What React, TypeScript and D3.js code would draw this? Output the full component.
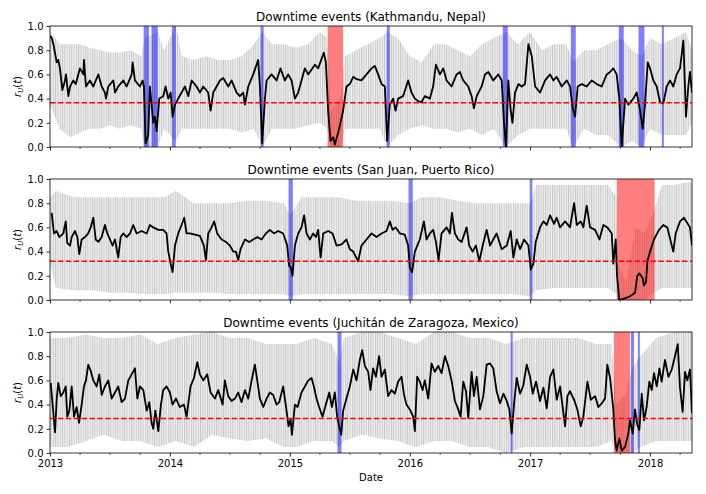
import React, { useEffect, useRef } from 'react';
import * as d3 from 'd3';

// smoothed r_U(t) traces, [decimal year, value]
const KTM_SMOOTH: [number, number][] = [
  [2013.0, 0.92], [2013.014, 0.9], [2013.028, 0.85], [2013.056, 0.7], [2013.069, 0.72], [2013.083, 0.65], [2013.103, 0.47],
  [2013.125, 0.55], [2013.133, 0.6], [2013.153, 0.42], [2013.167, 0.5], [2013.194, 0.55], [2013.215, 0.52], [2013.236, 0.6],
  [2013.25, 0.65], [2013.278, 0.6], [2013.283, 0.72], [2013.3, 0.5], [2013.333, 0.55], [2013.361, 0.5], [2013.403, 0.6],
  [2013.431, 0.5], [2013.458, 0.45], [2013.467, 0.4], [2013.486, 0.5], [2013.528, 0.55], [2013.542, 0.45], [2013.569, 0.5],
  [2013.611, 0.55], [2013.639, 0.5], [2013.681, 0.6], [2013.689, 0.7], [2013.708, 0.55], [2013.75, 0.5], [2013.772, 0.55],
  [2013.783, 0.5], [2013.797, 0.03], [2013.819, 0.1], [2013.833, 0.5], [2013.847, 0.35], [2013.861, 0.2], [2013.875, 0.25],
  [2013.889, 0.13], [2013.911, 0.4], [2013.944, 0.42], [2013.964, 0.5], [2013.986, 0.4], [2014.006, 0.45], [2014.022, 0.25],
  [2014.042, 0.35], [2014.069, 0.4], [2014.097, 0.45], [2014.125, 0.5], [2014.153, 0.42], [2014.181, 0.55], [2014.222, 0.5],
  [2014.25, 0.45], [2014.278, 0.5], [2014.319, 0.45], [2014.339, 0.3], [2014.361, 0.45], [2014.417, 0.55], [2014.444, 0.57],
  [2014.486, 0.5], [2014.514, 0.55], [2014.556, 0.45], [2014.583, 0.42], [2014.611, 0.45], [2014.625, 0.35], [2014.653, 0.5],
  [2014.694, 0.6], [2014.736, 0.72], [2014.75, 0.5], [2014.769, 0.03], [2014.792, 0.4], [2014.806, 0.55], [2014.847, 0.6],
  [2014.889, 0.55], [2014.922, 0.65], [2014.958, 0.55], [2014.986, 0.6], [2015.014, 0.55], [2015.042, 0.4], [2015.069, 0.45],
  [2015.097, 0.55], [2015.125, 0.65], [2015.153, 0.6], [2015.208, 0.68], [2015.236, 0.65], [2015.283, 0.78], [2015.3, 0.7],
  [2015.319, 0.3], [2015.339, 0.05], [2015.361, 0.08], [2015.375, 0.02], [2015.403, 0.12], [2015.422, 0.2], [2015.444, 0.3],
  [2015.472, 0.5], [2015.5, 0.52], [2015.528, 0.58], [2015.556, 0.56], [2015.597, 0.55], [2015.639, 0.6], [2015.681, 0.65],
  [2015.708, 0.67], [2015.736, 0.6], [2015.764, 0.52], [2015.792, 0.5], [2015.811, 0.05], [2015.833, 0.35], [2015.861, 0.4],
  [2015.881, 0.3], [2015.903, 0.4], [2015.944, 0.42], [2015.986, 0.55], [2016.014, 0.45], [2016.042, 0.4], [2016.069, 0.38],
  [2016.097, 0.37], [2016.125, 0.42], [2016.167, 0.4], [2016.194, 0.5], [2016.217, 0.68], [2016.25, 0.6], [2016.278, 0.65],
  [2016.306, 0.55], [2016.347, 0.5], [2016.389, 0.6], [2016.417, 0.62], [2016.444, 0.55], [2016.486, 0.5], [2016.514, 0.42],
  [2016.533, 0.32], [2016.556, 0.42], [2016.597, 0.5], [2016.625, 0.6], [2016.653, 0.62], [2016.694, 0.55], [2016.736, 0.6],
  [2016.764, 0.55], [2016.783, 0.2], [2016.8, 0.0], [2016.819, 0.55], [2016.839, 0.3], [2016.853, 0.2], [2016.875, 0.45],
  [2016.903, 0.52], [2016.931, 0.5], [2016.958, 0.52], [2016.986, 0.85], [2017.014, 0.75], [2017.042, 0.5], [2017.083, 0.45],
  [2017.125, 0.55], [2017.167, 0.6], [2017.194, 0.55], [2017.222, 0.58], [2017.264, 0.5], [2017.306, 0.55], [2017.333, 0.5],
  [2017.356, 0.32], [2017.375, 0.25], [2017.397, 0.5], [2017.431, 0.52], [2017.472, 0.5], [2017.514, 0.55], [2017.556, 0.52],
  [2017.597, 0.5], [2017.639, 0.6], [2017.667, 0.62], [2017.694, 0.65], [2017.722, 0.6], [2017.744, 0.4], [2017.764, 0.0],
  [2017.792, 0.4], [2017.819, 0.35], [2017.861, 0.4], [2017.889, 0.45], [2017.917, 0.3], [2017.939, 0.15], [2017.958, 0.35],
  [2017.981, 0.7], [2018.0, 0.65], [2018.028, 0.55], [2018.056, 0.5], [2018.083, 0.37], [2018.111, 0.36], [2018.139, 0.5],
  [2018.167, 0.55], [2018.194, 0.5], [2018.222, 0.6], [2018.25, 0.65], [2018.278, 0.88], [2018.3, 0.25], [2018.319, 0.5],
  [2018.333, 0.62], [2018.35, 0.45],
];

const SJU_SMOOTH: [number, number][] = [
  [2013.014, 0.72], [2013.033, 0.55], [2013.056, 0.57], [2013.078, 0.52], [2013.111, 0.55], [2013.131, 0.65], [2013.144, 0.47],
  [2013.167, 0.45], [2013.181, 0.52], [2013.208, 0.57], [2013.228, 0.52], [2013.244, 0.38], [2013.264, 0.5], [2013.292, 0.52],
  [2013.319, 0.55], [2013.339, 0.6], [2013.361, 0.68], [2013.381, 0.5], [2013.403, 0.48], [2013.431, 0.52], [2013.458, 0.62],
  [2013.478, 0.55], [2013.5, 0.5], [2013.522, 0.45], [2013.542, 0.5], [2013.569, 0.35], [2013.589, 0.52], [2013.611, 0.55],
  [2013.639, 0.52], [2013.667, 0.55], [2013.694, 0.62], [2013.722, 0.55], [2013.764, 0.57], [2013.806, 0.55], [2013.833, 0.62],
  [2013.861, 0.6], [2013.903, 0.58], [2013.944, 0.58], [2013.972, 0.55], [2013.986, 0.4], [2014.006, 0.3], [2014.022, 0.23],
  [2014.042, 0.45], [2014.069, 0.55], [2014.097, 0.62], [2014.119, 0.68], [2014.139, 0.55], [2014.167, 0.55], [2014.208, 0.54],
  [2014.25, 0.53], [2014.283, 0.45], [2014.3, 0.33], [2014.319, 0.55], [2014.347, 0.6], [2014.369, 0.65], [2014.394, 0.55],
  [2014.431, 0.5], [2014.467, 0.48], [2014.5, 0.45], [2014.528, 0.4], [2014.55, 0.4], [2014.569, 0.33], [2014.589, 0.42],
  [2014.625, 0.5], [2014.661, 0.48], [2014.694, 0.5], [2014.728, 0.52], [2014.764, 0.5], [2014.8, 0.55], [2014.833, 0.58],
  [2014.867, 0.55], [2014.903, 0.57], [2014.944, 0.55], [2014.978, 0.45], [2014.994, 0.28], [2015.008, 0.27], [2015.022, 0.2],
  [2015.042, 0.45], [2015.069, 0.55], [2015.097, 0.6], [2015.119, 0.7], [2015.139, 0.55], [2015.167, 0.5], [2015.194, 0.55],
  [2015.217, 0.52], [2015.236, 0.58], [2015.256, 0.35], [2015.278, 0.55], [2015.319, 0.57], [2015.356, 0.55], [2015.389, 0.45],
  [2015.431, 0.46], [2015.472, 0.5], [2015.5, 0.42], [2015.528, 0.4], [2015.569, 0.32], [2015.597, 0.45], [2015.639, 0.5],
  [2015.681, 0.55], [2015.722, 0.52], [2015.764, 0.55], [2015.806, 0.57], [2015.833, 0.65], [2015.856, 0.58], [2015.883, 0.6],
  [2015.917, 0.55], [2015.958, 0.54], [2015.986, 0.45], [2016.0, 0.27], [2016.019, 0.23], [2016.042, 0.4], [2016.083, 0.5],
  [2016.117, 0.65], [2016.139, 0.5], [2016.167, 0.55], [2016.194, 0.58], [2016.217, 0.48], [2016.239, 0.33], [2016.264, 0.55],
  [2016.306, 0.6], [2016.333, 0.55], [2016.35, 0.72], [2016.375, 0.55], [2016.403, 0.5], [2016.431, 0.48], [2016.472, 0.6],
  [2016.494, 0.45], [2016.522, 0.4], [2016.55, 0.45], [2016.578, 0.32], [2016.606, 0.45], [2016.639, 0.58], [2016.667, 0.45],
  [2016.694, 0.5], [2016.722, 0.55], [2016.764, 0.42], [2016.806, 0.45], [2016.839, 0.57], [2016.861, 0.35], [2016.889, 0.5],
  [2016.917, 0.42], [2016.95, 0.5], [2016.986, 0.45], [2017.006, 0.25], [2017.028, 0.3], [2017.047, 0.48], [2017.083, 0.6],
  [2017.111, 0.65], [2017.139, 0.62], [2017.167, 0.7], [2017.2, 0.63], [2017.222, 0.68], [2017.25, 0.6], [2017.292, 0.65],
  [2017.333, 0.6], [2017.367, 0.8], [2017.389, 0.62], [2017.422, 0.65], [2017.444, 0.6], [2017.472, 0.78], [2017.5, 0.6],
  [2017.542, 0.58], [2017.578, 0.5], [2017.611, 0.62], [2017.644, 0.6], [2017.681, 0.55], [2017.694, 0.3], [2017.714, 0.5],
  [2017.725, 0.2], [2017.744, 0.0], [2017.778, 0.01], [2017.833, 0.03], [2017.875, 0.06], [2017.894, 0.2], [2017.911, 0.22],
  [2017.939, 0.18], [2017.95, 0.12], [2017.967, 0.15], [2017.978, 0.32], [2018.0, 0.4], [2018.033, 0.5], [2018.075, 0.58],
  [2018.111, 0.62], [2018.144, 0.6], [2018.194, 0.4], [2018.214, 0.55], [2018.25, 0.65], [2018.283, 0.68], [2018.333, 0.6],
  [2018.35, 0.45],
];

const JUC_SMOOTH: [number, number][] = [
  [2013.006, 0.58], [2013.022, 0.4], [2013.042, 0.17], [2013.056, 0.45], [2013.069, 0.58], [2013.089, 0.47], [2013.111, 0.5],
  [2013.131, 0.55], [2013.144, 0.3], [2013.161, 0.35], [2013.181, 0.55], [2013.2, 0.3], [2013.222, 0.38], [2013.242, 0.25],
  [2013.264, 0.4], [2013.283, 0.55], [2013.3, 0.6], [2013.319, 0.73], [2013.339, 0.68], [2013.361, 0.6], [2013.389, 0.55],
  [2013.411, 0.65], [2013.431, 0.48], [2013.458, 0.55], [2013.486, 0.6], [2013.514, 0.45], [2013.542, 0.5], [2013.569, 0.55],
  [2013.597, 0.42], [2013.625, 0.45], [2013.653, 0.6], [2013.681, 0.65], [2013.708, 0.7], [2013.728, 0.45], [2013.75, 0.55],
  [2013.778, 0.52], [2013.806, 0.35], [2013.828, 0.42], [2013.847, 0.25], [2013.861, 0.2], [2013.878, 0.35], [2013.903, 0.18],
  [2013.925, 0.4], [2013.944, 0.52], [2013.972, 0.55], [2014.0, 0.5], [2014.022, 0.4], [2014.05, 0.45], [2014.083, 0.38],
  [2014.117, 0.4], [2014.139, 0.3], [2014.172, 0.55], [2014.2, 0.62], [2014.228, 0.75], [2014.25, 0.65], [2014.278, 0.6],
  [2014.311, 0.65], [2014.339, 0.5], [2014.375, 0.45], [2014.403, 0.52], [2014.439, 0.4], [2014.458, 0.6], [2014.486, 0.47],
  [2014.514, 0.43], [2014.542, 0.45], [2014.569, 0.5], [2014.597, 0.42], [2014.625, 0.52], [2014.653, 0.45], [2014.681, 0.6],
  [2014.708, 0.73], [2014.728, 0.6], [2014.75, 0.45], [2014.778, 0.38], [2014.806, 0.45], [2014.833, 0.5], [2014.861, 0.48],
  [2014.889, 0.4], [2014.911, 0.42], [2014.944, 0.55], [2014.972, 0.35], [2014.989, 0.22], [2015.006, 0.28], [2015.017, 0.15],
  [2015.042, 0.4], [2015.064, 0.38], [2015.097, 0.5], [2015.125, 0.55], [2015.153, 0.6], [2015.181, 0.62], [2015.2, 0.55],
  [2015.222, 0.45], [2015.244, 0.38], [2015.272, 0.3], [2015.3, 0.4], [2015.328, 0.5], [2015.35, 0.38], [2015.375, 0.5],
  [2015.394, 0.3], [2015.411, 0.22], [2015.428, 0.15], [2015.444, 0.35], [2015.472, 0.45], [2015.5, 0.55], [2015.528, 0.69],
  [2015.556, 0.6], [2015.583, 0.77], [2015.603, 0.85], [2015.625, 0.72], [2015.653, 0.67], [2015.672, 0.52], [2015.694, 0.7],
  [2015.717, 0.63], [2015.744, 0.8], [2015.764, 0.63], [2015.792, 0.69], [2015.819, 0.47], [2015.847, 0.52], [2015.875, 0.49],
  [2015.903, 0.59], [2015.931, 0.63], [2015.95, 0.49], [2015.972, 0.4], [2016.0, 0.36], [2016.028, 0.3], [2016.042, 0.18],
  [2016.061, 0.63], [2016.083, 0.59], [2016.106, 0.52], [2016.125, 0.6], [2016.153, 0.45], [2016.181, 0.74], [2016.208, 0.67],
  [2016.236, 0.72], [2016.264, 0.66], [2016.292, 0.8], [2016.319, 0.72], [2016.347, 0.6], [2016.375, 0.43], [2016.403, 0.36],
  [2016.422, 0.3], [2016.444, 0.59], [2016.467, 0.51], [2016.486, 0.29], [2016.514, 0.67], [2016.533, 0.47], [2016.556, 0.63],
  [2016.583, 0.36], [2016.611, 0.47], [2016.639, 0.73], [2016.667, 0.74], [2016.694, 0.7], [2016.722, 0.51], [2016.75, 0.41],
  [2016.778, 0.49], [2016.806, 0.43], [2016.828, 0.36], [2016.847, 0.16], [2016.867, 0.41], [2016.889, 0.62], [2016.917, 0.49],
  [2016.944, 0.56], [2016.972, 0.73], [2017.0, 0.63], [2017.022, 0.49], [2017.05, 0.59], [2017.083, 0.43], [2017.111, 0.54],
  [2017.139, 0.37], [2017.167, 0.63], [2017.194, 0.69], [2017.222, 0.44], [2017.25, 0.55], [2017.292, 0.22], [2017.311, 0.47],
  [2017.333, 0.51], [2017.367, 0.44], [2017.394, 0.36], [2017.422, 0.22], [2017.444, 0.3], [2017.478, 0.59], [2017.506, 0.44],
  [2017.542, 0.47], [2017.569, 0.38], [2017.597, 0.41], [2017.625, 0.45], [2017.644, 0.73], [2017.667, 0.62], [2017.694, 0.36],
  [2017.708, 0.11], [2017.722, 0.02], [2017.744, 0.12], [2017.764, 0.02], [2017.792, 0.05], [2017.819, 0.16], [2017.833, 0.27],
  [2017.856, 0.16], [2017.875, 0.36], [2017.894, 0.23], [2017.911, 0.19], [2017.931, 0.49], [2017.95, 0.27], [2017.972, 0.38],
  [2017.994, 0.59], [2018.014, 0.52], [2018.033, 0.66], [2018.056, 0.55], [2018.078, 0.7], [2018.097, 0.59], [2018.125, 0.77],
  [2018.153, 0.63], [2018.181, 0.69], [2018.208, 0.8], [2018.231, 0.9], [2018.25, 0.54], [2018.272, 0.34], [2018.292, 0.67],
  [2018.311, 0.6], [2018.333, 0.69], [2018.35, 0.33],
];

// daily r_U(t) spread, [decimal year, low, high]
const KTM_DAILY: [number, number, number][] = [
  [2013.0, 0.35, 0.97], [2013.08, 0.15, 0.85], [2013.17, 0.08, 0.85], [2013.25, 0.12, 0.85], [2013.33, 0.15, 0.82],
  [2013.42, 0.15, 0.8], [2013.5, 0.18, 0.78], [2013.58, 0.15, 0.78], [2013.67, 0.18, 0.8], [2013.76, 0.15, 0.75],
  [2013.79, 0.0, 0.9], [2013.9, 0.0, 0.95], [2013.95, 0.15, 0.8], [2014.05, 0.05, 1.0], [2014.1, 0.15, 0.75],
  [2014.2, 0.15, 0.72], [2014.3, 0.15, 0.75], [2014.4, 0.15, 0.72], [2014.5, 0.15, 0.72], [2014.6, 0.12, 0.75],
  [2014.7, 0.15, 0.85], [2014.77, 0.0, 0.95], [2014.85, 0.15, 0.85], [2014.95, 0.15, 0.85], [2015.05, 0.15, 0.82],
  [2015.15, 0.18, 0.85], [2015.25, 0.2, 0.95], [2015.31, 0.15, 0.9], [2015.34, 0.0, 0.3], [2015.42, 0.0, 0.4],
  [2015.46, 0.15, 0.75], [2015.55, 0.15, 0.8], [2015.65, 0.15, 0.85], [2015.75, 0.15, 0.9], [2015.81, 0.0, 0.95],
  [2015.9, 0.1, 0.9], [2016.0, 0.15, 0.75], [2016.1, 0.18, 0.7], [2016.2, 0.15, 0.85], [2016.3, 0.15, 0.85],
  [2016.4, 0.12, 0.8], [2016.5, 0.15, 0.75], [2016.6, 0.1, 0.85], [2016.7, 0.15, 0.9], [2016.8, 0.0, 0.95],
  [2016.9, 0.1, 0.85], [2017.0, 0.15, 0.95], [2017.1, 0.15, 0.8], [2017.2, 0.15, 0.85], [2017.3, 0.15, 0.85],
  [2017.36, 0.0, 0.7], [2017.45, 0.15, 0.8], [2017.55, 0.1, 0.8], [2017.65, 0.1, 0.85], [2017.76, 0.0, 0.9],
  [2017.85, 0.05, 0.8], [2017.93, 0.0, 0.75], [2018.0, 0.15, 0.9], [2018.1, 0.1, 0.85], [2018.2, 0.1, 0.9],
  [2018.3, 0.1, 0.95], [2018.35, 0.2, 0.8],
];

const SJU_DAILY: [number, number, number][] = [
  [2013.0, 0.3, 0.85], [2013.05, 0.1, 0.9], [2013.2, 0.08, 0.85], [2013.35, 0.08, 0.85], [2013.5, 0.06, 0.85],
  [2013.65, 0.06, 0.85], [2013.8, 0.05, 0.85], [2013.95, 0.05, 0.85], [2014.05, 0.06, 0.9], [2014.2, 0.06, 0.8],
  [2014.35, 0.06, 0.8], [2014.5, 0.05, 0.8], [2014.65, 0.05, 0.82], [2014.8, 0.05, 0.82], [2014.95, 0.05, 0.8],
  [2015.0, 0.03, 0.7], [2015.1, 0.05, 0.85], [2015.25, 0.05, 0.85], [2015.4, 0.05, 0.85], [2015.55, 0.05, 0.82],
  [2015.7, 0.05, 0.82], [2015.85, 0.05, 0.82], [2016.0, 0.03, 0.8], [2016.1, 0.05, 0.85], [2016.25, 0.05, 0.85],
  [2016.4, 0.05, 0.82], [2016.55, 0.05, 0.8], [2016.7, 0.05, 0.8], [2016.85, 0.05, 0.8], [2017.0, 0.03, 0.8],
  [2017.05, 0.08, 0.95], [2017.2, 0.1, 0.95], [2017.35, 0.1, 0.95], [2017.5, 0.1, 0.95], [2017.65, 0.1, 0.95],
  [2017.72, 0.05, 0.85], [2017.73, 0.0, 0.3], [2017.8, 0.0, 0.15], [2017.88, 0.0, 0.6], [2017.95, 0.0, 0.55],
  [2018.02, 0.05, 0.7], [2018.1, 0.1, 0.95], [2018.2, 0.1, 0.95], [2018.35, 0.1, 0.98],
];

const JUC_DAILY: [number, number, number][] = [
  [2013.0, 0.05, 0.95], [2013.15, 0.05, 0.95], [2013.3, 0.1, 0.98], [2013.45, 0.15, 0.95], [2013.6, 0.1, 0.95],
  [2013.75, 0.1, 0.98], [2013.9, 0.05, 0.9], [2014.05, 0.1, 0.95], [2014.2, 0.05, 0.98], [2014.35, 0.15, 1.0],
  [2014.5, 0.12, 0.95], [2014.65, 0.1, 0.95], [2014.8, 0.12, 0.9], [2014.95, 0.05, 0.9], [2015.05, 0.05, 0.9],
  [2015.2, 0.1, 0.95], [2015.35, 0.1, 0.9], [2015.41, 0.05, 0.75], [2015.45, 0.1, 0.95], [2015.6, 0.15, 1.0],
  [2015.75, 0.12, 1.0], [2015.9, 0.1, 0.95], [2016.05, 0.05, 0.9], [2016.2, 0.1, 1.0], [2016.35, 0.1, 1.0],
  [2016.5, 0.05, 0.95], [2016.65, 0.05, 0.95], [2016.8, 0.0, 0.9], [2016.95, 0.05, 0.95], [2017.1, 0.05, 0.95],
  [2017.25, 0.05, 0.95], [2017.4, 0.05, 0.95], [2017.55, 0.05, 0.9], [2017.68, 0.1, 0.9], [2017.72, 0.0, 0.4],
  [2017.8, 0.0, 0.5], [2017.85, 0.0, 0.7], [2017.92, 0.05, 0.8], [2018.05, 0.1, 0.95], [2018.2, 0.1, 1.0],
  [2018.35, 0.1, 1.0],
];

// downtime events: [start, end, kind]
const KTM_EVENTS: [string, string, string][] = [
  ['2013-10-13', '2013-10-29', 'short'], ['2013-11-06', '2013-11-25', 'short'], ['2014-01-07', '2014-01-19', 'short'],
  ['2014-10-04', '2014-10-13', 'short'], ['2015-04-26', '2015-06-12', 'long'], ['2015-10-23', '2015-11-01', 'short'],
  ['2016-10-10', '2016-10-25', 'short'], ['2017-05-05', '2017-05-20', 'short'], ['2017-09-28', '2017-10-13', 'short'],
  ['2017-11-27', '2017-12-15', 'short'], ['2018-02-06', '2018-02-12', 'short'],
];
const SJU_EVENTS: [string, string, string][] = [
  ['2014-12-28', '2015-01-10', 'short'], ['2015-12-28', '2016-01-10', 'short'], ['2016-12-31', '2017-01-08', 'short'],
  ['2017-09-22', '2018-01-15', 'long'],
];
const JUC_EVENTS: [string, string, string][] = [
  ['2015-05-26', '2015-06-07', 'short'], ['2016-11-03', '2016-11-09', 'short'], ['2017-09-13', '2017-11-01', 'long'],
  ['2017-11-04', '2017-11-13', 'short'], ['2017-11-25', '2017-12-01', 'short'],
];

const TITLES = [
  'Downtime events (Kathmandu, Nepal)',
  'Downtime events (San Juan, Puerto Rico)',
  'Downtime events (Juchitán de Zaragoza, Mexico)',
];
const THRESHOLDS = [0.365, 0.32, 0.285];
const Y_TICKS = [0, 0.2, 0.4, 0.6, 0.8, 1.0];

const PANELS = [
  { title: TITLES[0], smooth: KTM_SMOOTH, daily: KTM_DAILY, events: KTM_EVENTS, threshold: THRESHOLDS[0] },
  { title: TITLES[1], smooth: SJU_SMOOTH, daily: SJU_DAILY, events: SJU_EVENTS, threshold: THRESHOLDS[1] },
  { title: TITLES[2], smooth: JUC_SMOOTH, daily: JUC_DAILY, events: JUC_EVENTS, threshold: THRESHOLDS[2] },
];

const WIDTH = 706;
const HEIGHT = 494;
const LEFT = 50;
const RIGHT = 692;
const TOPS = [26, 179, 332];
const PANEL_H = 121;
const FONT = '"DejaVu Sans", sans-serif';

function fromYear(y: number) {
  const yr = Math.floor(y);
  const start = Date.UTC(yr, 0, 1);
  const end = Date.UTC(yr + 1, 0, 1);
  return new Date(start + (y - yr) * (end - start));
}

const parse = d3.utcParse('%Y-%m-%d');

const App: React.FC = () => {
  const svgRef = useRef<SVGSVGElement>(null);

  useEffect(() => {
    document.body.style.margin = '0';
    const svg = d3.select(svgRef.current);
    svg.selectAll('*').remove();

    const x = d3.scaleUtc()
      .domain([fromYear(2013), fromYear(2018.35)])
      .range([LEFT, RIGHT]);

    const defs = svg.append('defs');
    // daily series is drawn as a dense weekly line texture
    const pat = defs.append('pattern')
      .attr('id', 'daily-texture')
      .attr('patternUnits', 'userSpaceOnUse')
      .attr('width', 2.3)
      .attr('height', 20);
    pat.append('rect')
      .attr('width', 2.3)
      .attr('height', 20)
      .attr('fill', '#f1f1f1');
    pat.append('rect')
      .attr('x', 0)
      .attr('y', 0)
      .attr('width', 1.0)
      .attr('height', 20)
      .attr('fill', '#c6c6c6');

    PANELS.forEach((panel, i) => {
      const top = TOPS[i];
      const y = d3.scaleLinear().domain([0, 1]).range([top + PANEL_H, top]);
      const g = svg.append('g');

      defs.append('clipPath')
        .attr('id', `clip-${i}`)
        .append('rect')
        .attr('x', LEFT)
        .attr('y', top)
        .attr('width', RIGHT - LEFT)
        .attr('height', PANEL_H);

      const plot = g.append('g').attr('clip-path', `url(#clip-${i})`);

      const band = d3.area<[number, number, number]>()
        .x(d => x(fromYear(d[0])))
        .y0(d => y(d[1]))
        .y1(d => y(d[2]));

      plot.append('path')
        .datum(panel.daily)
        .attr('d', band)
        .attr('fill', 'url(#daily-texture)');

      // downtime spans
      plot.selectAll('.event')
        .data(panel.events)
        .enter()
        .append('rect')
        .attr('x', d => x(parse(d[0])!))
        .attr('width', d => Math.max(1, x(parse(d[1])!) - x(parse(d[0])!)))
        .attr('y', top)
        .attr('height', PANEL_H)
        .attr('fill', d => (d[2] === 'long' ? '#ff0000' : '#0000ff'))
        .attr('fill-opacity', 0.5);

      const line = d3.line<[number, number]>()
        .x(d => x(fromYear(d[0])))
        .y(d => y(d[1]));

      plot.append('path')
        .datum(panel.smooth)
        .attr('d', line)
        .attr('fill', 'none')
        .attr('stroke', '#000')
        .attr('stroke-width', 1.8)
        .attr('stroke-linejoin', 'round');

      plot.append('line')
        .attr('x1', LEFT)
        .attr('x2', RIGHT)
        .attr('y1', y(panel.threshold))
        .attr('y2', y(panel.threshold))
        .attr('stroke', '#ff0000')
        .attr('stroke-width', 1.5)
        .attr('stroke-dasharray', '5.5,2.4');

      // axes
      const yAxis = g.append('g')
        .attr('transform', `translate(${LEFT},0)`)
        .call(d3.axisLeft(y).tickValues(Y_TICKS).tickFormat(d3.format('.1f')).tickSize(3.5).tickPadding(3));
      yAxis.select('.domain').remove();
      yAxis.selectAll('text').style('font-family', FONT).style('font-size', '10px').attr('fill', '#000');
      yAxis.selectAll('line').attr('stroke', '#000').attr('stroke-width', 0.8);

      const isLast = i === PANELS.length - 1;
      const xAxis = g.append('g')
        .attr('transform', `translate(0,${top + PANEL_H})`)
        .call(d3.axisBottom(x)
          .ticks(d3.utcYear)
          .tickFormat(d => (isLast ? d3.utcFormat('%Y')(d as Date) : ''))
          .tickSize(3.5)
          .tickPadding(3.5));
      xAxis.select('.domain').remove();
      xAxis.selectAll('text').style('font-family', FONT).style('font-size', '10px').attr('fill', '#000');
      xAxis.selectAll('line').attr('stroke', '#000').attr('stroke-width', 0.8);

      const minor = x.ticks(d3.utcMonth.every(3)!).filter(d => d.getUTCMonth() !== 0);
      const xMinor = g.append('g')
        .attr('transform', `translate(0,${top + PANEL_H})`)
        .call(d3.axisBottom(x).tickValues(minor).tickFormat(() => '').tickSize(2));
      xMinor.select('.domain').remove();
      xMinor.selectAll('line').attr('stroke', '#000').attr('stroke-width', 0.6);

      g.append('rect')
        .attr('x', LEFT)
        .attr('y', top)
        .attr('width', RIGHT - LEFT)
        .attr('height', PANEL_H)
        .attr('fill', 'none')
        .attr('stroke', '#000')
        .attr('stroke-width', 0.8);

      g.append('text')
        .attr('x', (LEFT + RIGHT) / 2)
        .attr('y', top - 5.5)
        .attr('text-anchor', 'middle')
        .style('font-family', FONT)
        .style('font-size', '12px')
        .text(panel.title);

      const yl = g.append('text')
        .attr('transform', `translate(21,${top + PANEL_H / 2}) rotate(-90)`)
        .attr('text-anchor', 'middle')
        .style('font-family', FONT)
        .style('font-size', '10px');
      yl.append('tspan').style('font-style', 'italic').text('r');
      yl.append('tspan').style('font-style', 'italic').style('font-size', '7px').attr('dy', 2).text('U');
      yl.append('tspan').attr('dy', -2).text('(');
      yl.append('tspan').style('font-style', 'italic').text('t');
      yl.append('tspan').text(')');
    });

    svg.append('text')
      .attr('x', (LEFT + RIGHT) / 2)
      .attr('y', 481)
      .attr('text-anchor', 'middle')
      .style('font-family', FONT)
      .style('font-size', '10px')
      .text('Date');
  }, []);

  return <svg ref={svgRef} width={WIDTH} height={HEIGHT} style={{ display: 'block', background: '#fff' }} />;
};

export default App;
